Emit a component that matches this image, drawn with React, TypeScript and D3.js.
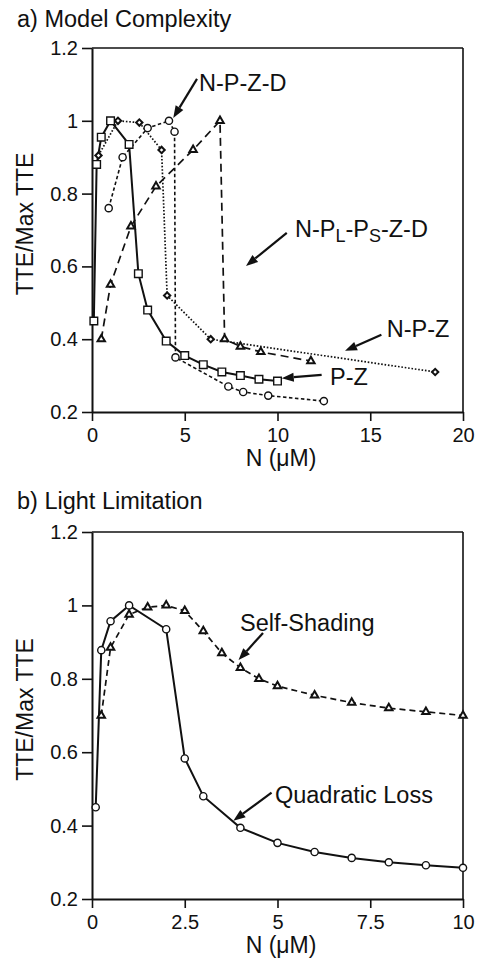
import React, { useRef, useEffect } from "react";
import * as d3 from "d3";

const FONT = "'Liberation Sans', Arial, Helvetica, sans-serif";

// a) model complexity
const pzN = [0.1, 0.25, 0.5, 1, 2, 2.5, 3, 4, 5, 6, 7, 8, 9, 10];
const pzTTE = [0.45, 0.88, 0.955, 1.0, 0.935, 0.58, 0.48, 0.395, 0.355, 0.33, 0.31, 0.3, 0.29, 0.285];

const npzdN = [0.9, 1.65, 3, 4.15, 4.45, 4.5, 7.35, 8.15, 9.5, 12.5];
const npzdTTE = [0.76, 0.9, 0.98, 1.0, 0.97, 0.35, 0.27, 0.255, 0.245, 0.23];

const npzN = [0.35, 1.4, 2.55, 3.75, 4.05, 6.4, 18.5];
const npzTTE = [0.905, 1.0, 0.995, 0.92, 0.52, 0.4, 0.31];

const nplpsN = [0.5, 1.0, 2.1, 3.45, 5.45, 6.9, 7.15, 8.0, 9.1, 11.8];
const nplpsTTE = [0.4, 0.55, 0.71, 0.82, 0.92, 1.0, 0.4, 0.38, 0.365, 0.34];

// b) light limitation
const quadN = [0.1, 0.25, 0.5, 1, 2, 2.5, 3, 4, 5, 6, 7, 8, 9, 10];
const quadTTE = [0.45, 0.878, 0.957, 1.0, 0.935, 0.583, 0.48, 0.394, 0.353, 0.328, 0.312, 0.3, 0.292, 0.285];

const shadeN = [0.25, 0.5, 1, 1.5, 2, 2.5, 3, 3.5, 4, 4.5, 5, 6, 7, 8, 9, 10];
const shadeTTE = [0.7, 0.885, 0.975, 0.995, 1.0, 0.985, 0.93, 0.87, 0.83, 0.8, 0.78, 0.755, 0.735, 0.72, 0.71, 0.7];

// ticks
const yTicks = [0.2, 0.4, 0.6, 0.8, 1, 1.2];
const yTickLabels = ["0.2", "0.4", "0.6", "0.8", "1", "1.2"];
const xTicksA = [0, 5, 10, 15, 20];
const xTickLabelsA = ["0", "5", "10", "15", "20"];
const xTicksB = [0, 2.5, 5, 7.5, 10];
const xTickLabelsB = ["0", "2.5", "5", "7.5", "10"];

// draws a filled arrow, tip at (x2, y2)
function arrow(g, x1, y1, x2, y2) {
  const ang = Math.atan2(y2 - y1, x2 - x1);
  const hl = 12, hw = 4.5;
  const bx = x2 - hl * Math.cos(ang), by = y2 - hl * Math.sin(ang);
  g.append("line")
    .attr("x1", x1).attr("y1", y1).attr("x2", bx).attr("y2", by)
    .attr("stroke", "#111").attr("stroke-width", 2.2);
  const s = Math.sin(ang), c = Math.cos(ang);
  g.append("polygon")
    .attr("points", `${x2},${y2} ${bx + hw * s},${by - hw * c} ${bx - hw * s},${by + hw * c}`)
    .attr("fill", "#111");
}

function drawMarkers(g, pts, kind) {
  if (kind === "circle") {
    g.selectAll(null).data(pts).join("circle")
      .attr("cx", (d) => d[0]).attr("cy", (d) => d[1]).attr("r", 3.6)
      .attr("fill", "white").attr("stroke", "#111").attr("stroke-width", 1.4);
    return;
  }
  // diamond = square turned 45deg, looks closer than d3's tall diamond
  const type = kind === "triangle" ? d3.symbolTriangle : d3.symbolSquare;
  const size = kind === "square" ? 58 : kind === "diamond" ? 20 : 24;
  const sw = kind === "square" ? 1.4 : 2;
  const rot = kind === "diamond" ? 45 : 0;
  g.selectAll(null).data(pts).join("path")
    .attr("transform", (d) => `translate(${d[0]},${d[1]}) rotate(${rot})`)
    .attr("d", d3.symbol().type(type).size(size)())
    .attr("fill", "white").attr("stroke", "#111").attr("stroke-width", sw);
}

function drawPanel(svg, p) {
  const x = d3.scaleLinear().domain(p.xDomain).range([92, 463]);
  const y = d3.scaleLinear().domain([0.2, 1.2]).range([p.bottom, p.top]);
  const g = svg.append("g");

  // title
  g.append("text").attr("x", 17).attr("y", p.titleY)
    .attr("font-size", 23.5).attr("font-family", FONT).attr("fill", "#111").text(p.title);

  // frame top + right
  g.append("line").attr("x1", 92).attr("x2", 463).attr("y1", p.top).attr("y2", p.top)
    .attr("stroke", "#111").attr("stroke-width", 1.6);
  g.append("line").attr("x1", 463).attr("x2", 463).attr("y1", p.top).attr("y2", p.bottom)
    .attr("stroke", "#111").attr("stroke-width", 1.6);

  const yAxis = d3.axisLeft(y).tickValues(yTicks).tickFormat((d, i) => yTickLabels[i])
    .tickSize(10).tickSizeOuter(0).tickPadding(4);
  const ya = g.append("g").attr("transform", "translate(92,0)").call(yAxis);

  const xAxis = d3.axisBottom(x).tickValues(p.xTicks).tickFormat((d, i) => p.xLabels[i])
    .tickSize(9).tickSizeOuter(0).tickPadding(7);
  const xa = g.append("g").attr("transform", `translate(0,${p.bottom})`).call(xAxis);

  [ya, xa].forEach((a) => {
    a.attr("font-size", 20).attr("font-family", FONT);
    a.select(".domain").attr("stroke", "#111").attr("stroke-width", 2);
    a.selectAll(".tick line").attr("stroke", "#111").attr("stroke-width", 1.6);
    a.selectAll(".tick text").attr("fill", "#111");
  });

  // axis titles
  g.append("text").attr("x", 281).attr("y", p.bottom + 54).attr("text-anchor", "middle")
    .attr("font-size", 23).attr("font-family", FONT).attr("fill", "#111").text("N (μM)");
  g.append("text")
    .attr("transform", `translate(33,${(p.top + p.bottom) / 2 - 6}) rotate(-90)`)
    .attr("text-anchor", "middle").attr("font-size", 23).attr("font-family", FONT)
    .attr("fill", "#111").text("TTE/Max TTE");

  const line = d3.line().x((d) => d[0]).y((d) => d[1]);
  p.series.forEach((s) => {
    const pts = s.xs.map((v, i) => [x(v), y(s.ys[i])]);
    g.append("path").attr("d", line(pts)).attr("fill", "none")
      .attr("stroke", "#111").attr("stroke-width", s.width)
      .attr("stroke-dasharray", s.dash);
  });
  p.series.forEach((s) => {
    const pts = s.xs.map((v, i) => [x(v), y(s.ys[i])]);
    drawMarkers(g.append("g"), pts, s.marker);
  });

  // labels and arrows
  p.notes.forEach((n) => {
    const t = g.append("text").attr("x", x(n.tx)).attr("y", y(n.ty))
      .attr("font-size", 23.5).attr("font-family", FONT).attr("fill", "#111");
    n.parts.forEach((part) => {
      if (part.sub) {
        t.append("tspan").attr("font-size", 18).attr("dy", 5).text(part.text);
      } else {
        t.append("tspan").attr("dy", part.after ? -5 : 0).text(part.text);
      }
    });
    arrow(g, x(n.ax1), y(n.ay1), x(n.ax2), y(n.ay2));
  });
}

export default function App() {
  const svgRef = useRef(null);

  useEffect(() => {
    const svg = d3.select(svgRef.current);
    svg.selectAll("*").remove();

    drawPanel(svg, {
      title: "a) Model Complexity",
      titleY: 26.7,
      top: 48,
      bottom: 412,
      xDomain: [0, 20],
      xTicks: xTicksA,
      xLabels: xTickLabelsA,
      series: [
        { xs: nplpsN, ys: nplpsTTE, dash: "8,5", width: 1.7, marker: "triangle" },
        { xs: npzN, ys: npzTTE, dash: "1.6,1.8", width: 1.7, marker: "diamond" },
        { xs: npzdN, ys: npzdTTE, dash: "3.5,2.5", width: 1.6, marker: "circle" },
        { xs: pzN, ys: pzTTE, dash: null, width: 2, marker: "square" },
      ],
      notes: [
        { parts: [{ text: "N-P-Z-D" }], tx: 5.77, ty: 1.083, ax1: 5.66, ay1: 1.115, ax2: 4.38, ay2: 1.008 },
        {
          parts: [
            { text: "N-P" }, { text: "L", sub: true }, { text: "-P", after: true },
            { text: "S", sub: true }, { text: "-Z-D", after: true },
          ],
          tx: 10.94, ty: 0.681, ax1: 10.5, ay1: 0.692, ax2: 8.3, ay2: 0.601,
        },
        { parts: [{ text: "N-P-Z" }], tx: 15.89, ty: 0.405, ax1: 15.6, ay1: 0.412, ax2: 13.64, ay2: 0.368 },
        { parts: [{ text: "P-Z" }], tx: 12.83, ty: 0.274, ax1: 12.38, ay1: 0.302, ax2: 10.23, ay2: 0.293 },
      ],
    });

    drawPanel(svg, {
      title: "b) Light Limitation",
      titleY: 509,
      top: 532,
      bottom: 899,
      xDomain: [0, 10],
      xTicks: xTicksB,
      xLabels: xTickLabelsB,
      series: [
        { xs: shadeN, ys: shadeTTE, dash: "6,4", width: 1.7, marker: "triangle" },
        { xs: quadN, ys: quadTTE, dash: null, width: 2, marker: "circle" },
      ],
      notes: [
        { parts: [{ text: "Self-Shading" }], tx: 3.99, ty: 0.93, ax1: 4.61, ay1: 0.925, ax2: 3.95, ay2: 0.851 },
        { parts: [{ text: "Quadratic Loss" }], tx: 4.93, ty: 0.462, ax1: 4.84, ay1: 0.49, ax2: 3.81, ay2: 0.413 },
      ],
    });
  }, []);

  return (
    <svg
      ref={svgRef}
      width={478}
      height={961}
      style={{ position: "absolute", left: 0, top: 0, background: "white" }}
    />
  );
}
